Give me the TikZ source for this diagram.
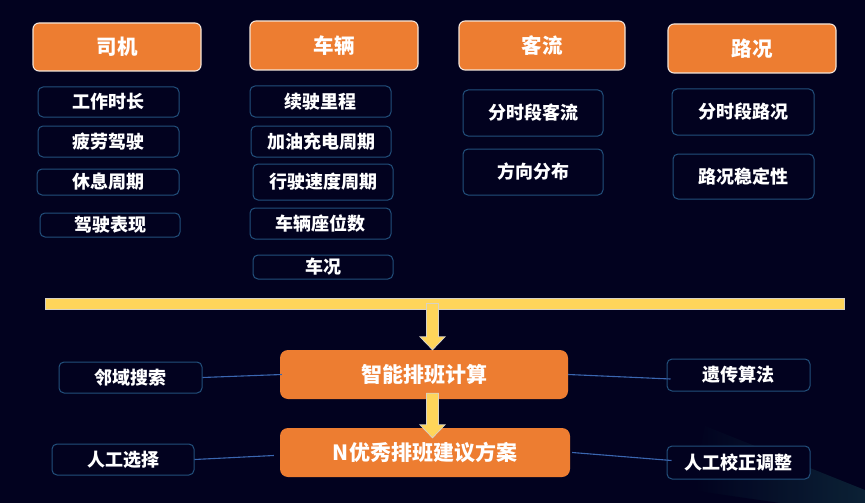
\documentclass[tikz,border=0pt]{standalone}
\usepackage{fontspec}
\newfontfamily\cjk{Noto Sans CJK SC}
\usetikzlibrary{calc}
\definecolor{bgc}{HTML}{02021F}
\definecolor{orangec}{HTML}{ED7D31}
\definecolor{headborder}{HTML}{F4E4D8}
\definecolor{itemborder}{HTML}{22507C}
\definecolor{linkc}{HTML}{3A66B0}
\definecolor{yellowc}{HTML}{FFD55A}
\definecolor{yborder}{HTML}{D8D2C4}
\definecolor{glowc}{HTML}{0C2538}
\newcommand\blkarrow[2]{%
  \draw[blockarrow] let \p1=(#1), \p2=(#2) in
    (\x1-6pt,\y1) -- (\x1+6pt,\y1) -- (\x1+6pt,\y2+13pt) -- (\x1+12.5pt,\y2+13pt)
    -- (\x1,\y2) -- (\x1-12.5pt,\y2+13pt) -- (\x1-6pt,\y2+13pt) -- cycle;}
\tikzset{
  headbox/.style={draw=headborder, line width=1.1pt, fill=orangec, rounded corners=6pt,
    text=white, font=\cjk\bfseries\fontsize{20.5}{24}\selectfont, inner sep=0pt},
  itembox/.style={draw=itemborder, line width=1pt, fill=bgc, rounded corners=5pt,
    text=white, font=\cjk\bfseries\fontsize{18}{21}\selectfont, inner sep=0pt},
  mainbox/.style={fill=orangec, rounded corners=8pt,
    text=white, font=\cjk\bfseries\fontsize{21}{24}\selectfont, inner sep=0pt,
    minimum height=49pt},
  link/.style={draw=linkc, line width=1.1pt},
  blockarrow/.style={fill=yellowc, draw=yborder, line width=0.8pt, line join=miter},
}
\begin{document}
\begin{tikzpicture}[x=1pt,y=-1pt]
\useasboundingbox (0,0) rectangle (865,503);
\fill[bgc] (0,0) rectangle (865,503);
% faint glow bottom-right
\shade[left color=bgc, right color=glowc, opacity=0.9] (705,426) -- (865,490) -- (865,503) -- (690,503) -- cycle;
\fill[bgc] (620,480) -- (780,503) -- (620,503) -- cycle;

% headers
\node[headbox, minimum width=168pt, minimum height=48pt] (siji) at (117,47) {司机};
\node[headbox, minimum width=168pt, minimum height=49pt] (cheliang) at (334,45.5) {车辆};
\node[headbox, minimum width=166pt, minimum height=49pt] (keliu) at (542,45.5) {客流};
\node[headbox, minimum width=168pt, minimum height=49pt] (lukuang) at (752,48.5) {路况};

% driver items
\node[itembox, minimum width=141pt, minimum height=30pt] (d1) at (108.5,102) {工作时长};
\node[itembox, minimum width=141pt, minimum height=31pt] (d2) at (108.5,141.5) {疲劳驾驶};
\node[itembox, minimum width=142pt, minimum height=26pt] (d3) at (108,182) {休息周期};
\node[itembox, minimum width=140pt, minimum height=24pt] (d4) at (110,225) {驾驶表现};

% vehicle items
\node[itembox, minimum width=141pt, minimum height=31pt] (v1) at (320.5,101.5) {续驶里程};
\node[itembox, minimum width=140pt, minimum height=31pt] (v2) at (321,141.5) {加油充电周期};
\node[itembox, minimum width=140pt, minimum height=36pt] (v3) at (323,182) {行驶速度周期};
\node[itembox, minimum width=141pt, minimum height=31pt] (v4) at (320.5,223.5) {车辆座位数};
\node[itembox, minimum width=140pt, minimum height=24pt] (v5) at (323,267) {车况};

% passenger flow items
\node[itembox, minimum width=140pt, minimum height=46pt] (p1) at (533,113) {分时段客流};
\node[itembox, minimum width=140pt, minimum height=46pt] (p2) at (533,172) {方向分布};

% road items
\node[itembox, minimum width=142pt, minimum height=46pt] (r1) at (743,112) {分时段路况};
\node[itembox, minimum width=141pt, minimum height=45pt] (r2) at (743.5,176.5) {路况稳定性};

% yellow bar
\node[draw=yborder, line width=0.8pt, fill=yellowc, minimum width=799pt, minimum height=11pt, inner sep=0pt] (bar) at (444.5,303.5) {};

% main boxes
\node[mainbox, minimum width=288pt] (calc) at (424,374.5) {智能排班计算};
\node[mainbox, minimum width=290pt] (plan) at (425,452.5) {N优秀排班建议方案};

% side items
\node[itembox, minimum width=143pt, minimum height=31pt] (lingyu) at (130.5,377.5) {邻域搜索};
\node[itembox, minimum width=142pt, minimum height=31pt] (rengong) at (123,459.5) {人工选择};
\node[itembox, minimum width=143pt, minimum height=32pt] (yichuan) at (738.5,375) {遗传算法};
\node[itembox, minimum width=143pt, minimum height=33pt] (jiaozheng) at (738.5,462.5) {人工校正调整};

% connectors
\draw[link] (lingyu.east) -- ($(calc.west)+(2,0)$);
\draw[link] (rengong.east) -- ($(plan.west)+(-6,3)$);
\draw[link] (calc.east) -- ($(yichuan.west)+(4,4)$);
\draw[link] ($(plan.east)+(2,0)$) -- ($(jiaozheng.west)+(5,-2)$);

% block arrows
\blkarrow{$(bar.center -| calc.north)+(8.5,0)$}{$(calc.north)+(8.5,0)$}
\blkarrow{$(calc.south)+(8.5,-6)$}{$(plan.north)+(7.5,10)$}
\end{tikzpicture}
\end{document}
